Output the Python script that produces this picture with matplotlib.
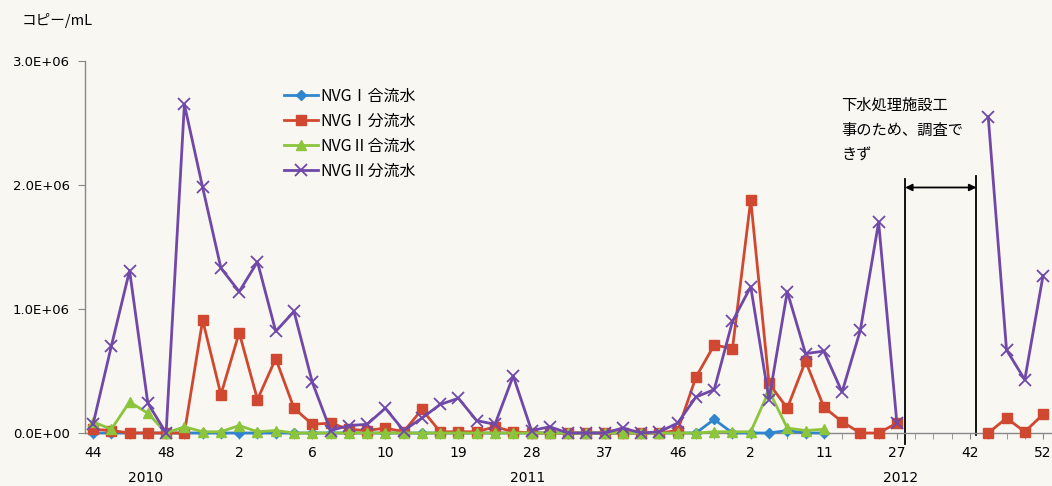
import numpy as np
import matplotlib
matplotlib.use('Agg')
import matplotlib.pyplot as plt
from matplotlib.ticker import FuncFormatter, FixedLocator

plt.rcParams['font.family'] = ['DejaVu Sans', 'Noto Sans CJK JP']
jp = ['Noto Sans CJK JP', 'DejaVu Sans']

nan = np.nan
# copies/mL, in millions; 53 sampling points (weeks), gap = no survey
nvg1_comb = [0.0, 0.0, 0.0, 0.0, 0.0, 0.0, 0.0, 0.0, 0.0, 0.0, 0.0, 0.0, 0.0,
             0.0, 0.0, 0.0, 0.0, 0.0, 0.0, 0.0, 0.0, 0.0, 0.0, 0.0, 0.0, 0.0,
             0.0, 0.0, 0.0, 0.0, 0.0, 0.0, 0.0, 0.0, 0.11, 0.0, 0.0, 0.0, 0.02,
             0.0, 0.0, nan, nan, nan, nan, nan, nan, nan, nan, nan, nan, nan, nan]
nvg1_sep = [0.03, 0.02, 0.0, 0.0, 0.0, 0.0, 0.91, 0.31, 0.81, 0.27, 0.60, 0.20, 0.07,
            0.08, 0.03, 0.02, 0.04, 0.01, 0.19, 0.01, 0.01, 0.01, 0.05, 0.01, 0.0, 0.0,
            0.0, 0.0, 0.0, 0.0, 0.0, 0.0, 0.02, 0.45, 0.71, 0.68, 1.88, 0.40, 0.20,
            0.58, 0.21, 0.09, 0.0, 0.0, 0.08, nan, nan, nan, nan, 0.0, 0.12, 0.01, 0.15]
nvg2_comb = [0.09, 0.03, 0.25, 0.16, 0.0, 0.05, 0.01, 0.01, 0.06, 0.01, 0.02, 0.0, 0.0,
             0.0, 0.0, 0.0, 0.0, 0.0, 0.0, 0.0, 0.0, 0.0, 0.0, 0.0, 0.0, 0.0,
             0.0, 0.0, 0.0, 0.0, 0.0, 0.0, 0.0, 0.0, 0.01, 0.01, 0.01, 0.34, 0.04,
             0.02, 0.03, nan, nan, nan, nan, nan, nan, nan, nan, nan, nan, nan, nan]
nvg2_sep = [0.07, 0.70, 1.31, 0.24, 0.0, 2.65, 1.98, 1.33, 1.14, 1.38, 0.82, 0.98, 0.41,
            0.02, 0.06, 0.07, 0.20, 0.02, 0.12, 0.23, 0.28, 0.10, 0.07, 0.46, 0.02, 0.05,
            0.0, 0.0, 0.0, 0.04, 0.0, 0.01, 0.08, 0.29, 0.35, 0.90, 1.18, 0.27, 1.14,
            0.64, 0.66, 0.33, 0.83, 1.70, 0.08, nan, nan, nan, nan, 2.55, 0.67, 0.43, 1.27]

week_labels = ['44', '48', '2', '6', '10', '19', '28', '37', '46', '2', '11', '27', '42', '52']
years = ['2010', '2011', '2012']
year_x = [2.9, 23.8, 44.2]

names = ['NVGⅠ合流水', 'NVGⅠ分流水', 'NVGⅡ合流水', 'NVGⅡ分流水']
colors = ['#2f86cf', '#d0482f', '#8cc43c', '#7048a8']
markers = ['D', 's', '^', 'x']
msizes = [5, 7.5, 7.5, 9]

bg = '#f8f7f2'
fig = plt.figure(figsize=(10.52, 4.86), dpi=100, facecolor=bg)
ax = fig.add_axes([85 / 1052, 53 / 486, 967 / 1052, 372 / 486])
ax.set_facecolor(bg)

n = len(nvg2_sep)
x = np.arange(n)
for vals, name, c, m, ms in zip([nvg1_comb, nvg1_sep, nvg2_comb, nvg2_sep],
                                names, colors, markers, msizes):
    y = np.array(vals) * 1e6
    ax.plot(x, y, color=c, lw=2, marker=m, ms=ms, mew=1.3 if m == 'x' else 1,
            mec=c, mfc=c, label=name, clip_on=False, zorder=3)

ax.set_xlim(-0.44, 52.49)
ax.set_ylim(0, 3e6)
ax.set_yticks([0, 1e6, 2e6, 3e6])
ax.yaxis.set_major_formatter(FuncFormatter(lambda v, p: '%.1E' % v))

ax.xaxis.set_major_locator(FixedLocator(list(range(0, n, 4))))
ax.set_xticklabels(week_labels)
ax.xaxis.set_minor_locator(FixedLocator(list(range(n))))

for s in ['top', 'right']:
    ax.spines[s].set_visible(False)
for s in ['left', 'bottom']:
    ax.spines[s].set_color('#888888')
    ax.spines[s].set_linewidth(1)
ax.tick_params(axis='x', which='both', length=4, color='#888888', labelsize=10, pad=5)
ax.tick_params(axis='y', length=5, color='#888888', labelsize=9.5, pad=6)

for yr, xp in zip(years, year_x):
    ax.text(xp, -0.122, yr, transform=ax.get_xaxis_transform(), ha='center',
            va='center', fontsize=10)

fig.text(22 / 1052, 1 - 20 / 486, 'コピー/mL', family=jp, fontsize=10.5, va='center')

# no-survey period (construction)
ax.plot([44.45, 44.45], [-0.09e6, 2.05e6], color='black', lw=1.3, clip_on=False)
ax.plot([48.35, 48.35], [-0.02e6, 2.07e6], color='black', lw=1.3, clip_on=False)
ax.annotate('', xy=(44.45, 1.98e6), xytext=(48.35, 1.98e6),
            arrowprops=dict(arrowstyle='<|-|>', color='black', lw=1.3,
                            shrinkA=0, shrinkB=0, mutation_scale=10))
ax.text(40.95, 2.71e6, '下水処理施設工\n事のため、調査で\nきず', family=jp,
        fontsize=11, va='top', ha='left', linespacing=1.62)

ax.legend(loc='upper left', bbox_to_anchor=(284 / 1052, 1 - 88 / 486),
          bbox_transform=fig.transFigure, frameon=False, prop={'family': jp, 'size': 11.5},
          handlelength=2.1, handletextpad=0.2, labelspacing=0.5, borderpad=0,
          borderaxespad=0)

fig.savefig('out.png', dpi=100, facecolor=bg)
